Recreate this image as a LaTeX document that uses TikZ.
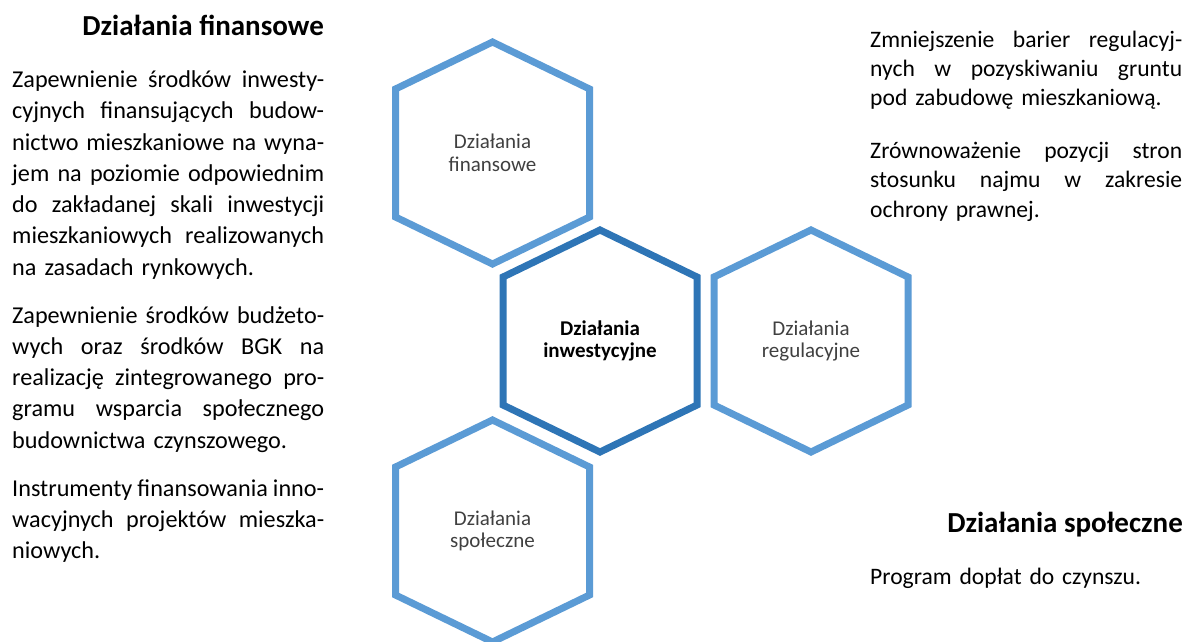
\documentclass[tikz,border=0pt]{standalone}
\usepackage{fontspec}
\setmainfont{Carlito}
\definecolor{hexblue}{HTML}{5B9BD5}
\definecolor{hexdark}{HTML}{2E75B6}
\definecolor{labelgray}{HTML}{404040}
\newcommand{\justline}[1]{\leavevmode\hbox to 312pt{\spaceskip=0.226em plus 1fil minus 0.12em\relax #1}}
\begin{document}
\begin{tikzpicture}[x=1pt,y=-1pt,
  hexline/.style={line width=7pt, line join=miter},
  hexlabel/.style={align=center, font=\fontsize{21}{22.5}\selectfont, text=labelgray, inner sep=0pt},
  hexmain/.style={align=center, font=\fontsize{21}{22.5}\selectfont\bfseries, text=black, inner sep=0pt},
  body/.style={anchor=base west, inner sep=0pt, align=left, text width=312pt, font=\fontsize{23.6}{29.3}\selectfont},
  bodyleft/.style={body, font=\fontsize{24.2}{31.25}\selectfont},
  heading/.style={anchor=base east, inner sep=0pt, font=\fontsize{29}{34}\selectfont\bfseries},
  hexshape/.pic={\draw[hexline] (0,-111) -- (97,-64) -- (97,64) -- (0,111) -- (-97,64) -- (-97,-64) -- cycle;}]
\useasboundingbox[fill=white] (0,0) rectangle (1188,641);

% hexagons
\node[hexlabel] (F) at (492.5,153) {Działania\\finansowe};
\node[hexmain]  (C) at (600,341) {Działania\\inwestycyjne};
\node[hexlabel] (R) at (811,341) {Działania\\regulacyjne};
\node[hexlabel] (S) at (492.5,531) {Działania\\społeczne};
\pic[color=hexblue] at (F.center) {hexshape};
\pic[color=hexdark] at (C.center) {hexshape};
\pic[color=hexblue] at (R.center) {hexshape};
\pic[color=hexblue] at (S.center) {hexshape};

% left column
\node[heading] (hF) at (324,35) {Działania finansowe};
\node[bodyleft] (pF1) at (12,87.5) {%
\justline{Zapewnienie środków inwesty-}\\
\justline{cyjnych finansujących budow-}\\
\justline{nictwo mieszkaniowe na wyna-}\\
\justline{jem na poziomie odpowiednim}\\
\justline{do zakładanej skali inwestycji}\\
\justline{mieszkaniowych realizowanych}\\
na zasadach rynkowych.};
\node[bodyleft] (pF2) at (12,323) {%
\justline{Zapewnienie środków budżeto-}\\
\justline{wych oraz środków BGK na}\\
\justline{realizację zintegrowanego pro-}\\
\justline{gramu wsparcia społecznego}\\
budownictwa czynszowego.};
\node[bodyleft] (pF3) at (12,496) {%
\justline{Instrumenty finansowania inno-}\\
\justline{wacyjnych projektów mieszka-}\\
niowych.};

% right column
\node[body] (pR1) at (870,47) {%
\justline{Zmniejszenie barier regulacyj-}\\
\justline{nych w pozyskiwaniu gruntu}\\
pod zabudowę mieszkaniową.};
\node[body] (pR2) at (870,158.5) {%
\justline{Zrównoważenie pozycji stron}\\
\justline{stosunku najmu w zakresie}\\
ochrony prawnej.};
\node[heading] (hS) at (1183,532) {Działania społeczne};
\node[body] (pS1) at (870,584) {Program dopłat do czynszu.};
\end{tikzpicture}
\end{document}
